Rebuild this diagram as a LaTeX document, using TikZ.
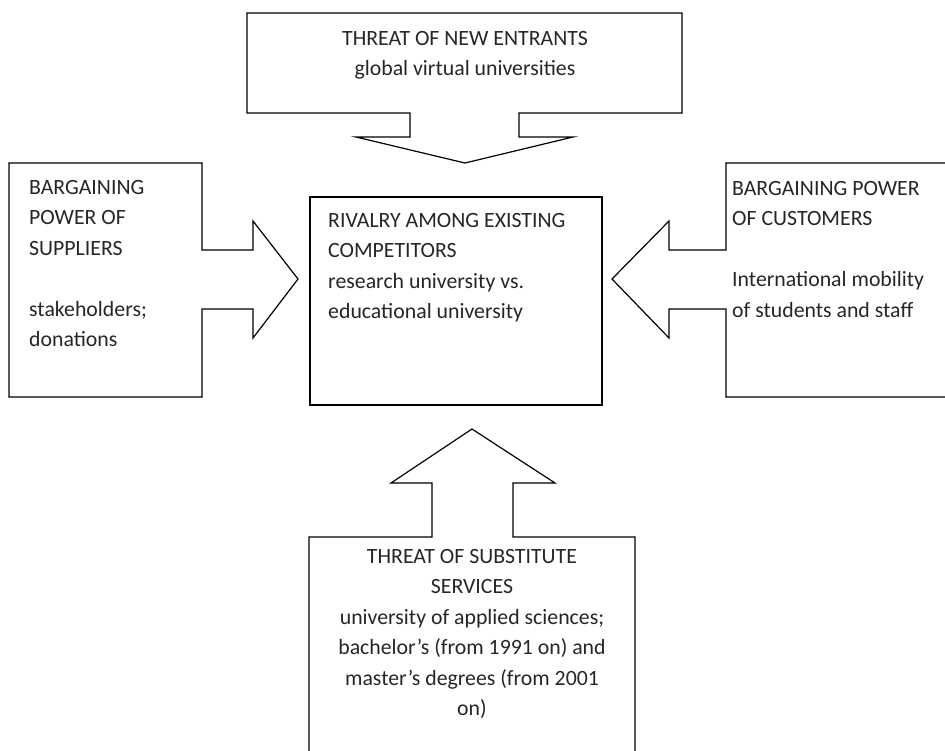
\documentclass[tikz,border=0pt]{standalone}
\usepackage{fontspec}
\setmainfont{Carlito}
\begin{document}
\begin{tikzpicture}[x=1pt,y=-1pt,
  shapeline/.style={draw=black,line width=1.2pt,line join=miter},
  boxtext/.style={inner sep=0pt,font=\fontsize{21.8}{30.5}\selectfont,text=black!85}]
\useasboundingbox (0,0) rectangle (945,750);
% top callout
\draw[shapeline] (247,13) -- (682,13) -- (682,113) -- (519,113) -- (519,137) -- (573,137) -- (465,163) -- (356,137) -- (410,137) -- (410,113) -- (247,113) -- cycle;
% left callout
\draw[shapeline] (9,163) -- (202,163) -- (202,250) -- (253,250) -- (253,221) -- (298,279) -- (253,338) -- (253,309) -- (202,309) -- (202,397) -- (9,397) -- cycle;
% center box
\draw[shapeline] (310,197) rectangle (602,405);
% right callout
\draw[shapeline] (726,163) -- (955,163) -- (955,397) -- (726,397) -- (726,309) -- (669,309) -- (669,338) -- (612,279) -- (669,221) -- (669,250) -- (726,250) -- cycle;
% bottom callout
\draw[shapeline] (309,537) -- (432,537) -- (432,483) -- (391,483) -- (472,429) -- (555,483) -- (513,483) -- (513,537) -- (635,537) -- (635,760) -- (309,760) -- cycle;
% texts
\node[boxtext,anchor=north,align=center] (tTop) at (465,{45-21.35}) {\strut THREAT OF NEW ENTRANTS\\global virtual universities};
\node[boxtext,anchor=north west,align=left] (tLeft) at (29,{194-21.35}) {\strut BARGAINING\\POWER OF\\SUPPLIERS\\[0pt]\\stakeholders;\\donations};
\node[boxtext,anchor=north west,align=left] (tCenter) at (328,{227-21.35}) {\strut RIVALRY AMONG EXISTING\\COMPETITORS\\research university vs.\\educational university};
\node[boxtext,anchor=north west,align=left] (tRight) at (732,{195-21.35}) {\strut BARGAINING POWER\\OF CUSTOMERS\\[0pt]\\International mobility\\of students and staff};
\node[boxtext,anchor=north,align=center] (tBottom) at (472,{563-21.35}) {\strut THREAT OF SUBSTITUTE\\SERVICES\\university of applied sciences;\\bachelor’s (from 1991 on) and\\master’s degrees (from 2001\\on)};
\end{tikzpicture}
\end{document}
